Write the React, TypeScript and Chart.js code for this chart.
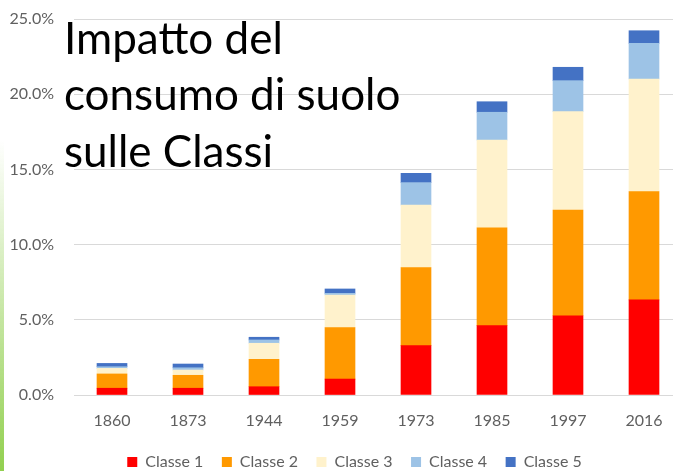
import React, { useEffect, useRef } from "react";
import { Chart, registerables } from "chart.js";

Chart.register(...registerables);

const years = ["1860", "1873", "1944", "1959", "1973", "1985", "1997", "2016"];
const classe1 = [0.45, 0.45, 0.55, 1.06, 3.28, 4.61, 5.27, 6.32];
const classe2 = [0.95, 0.86, 1.82, 3.42, 5.19, 6.51, 7.03, 7.2];
const classe3 = [0.37, 0.35, 1.07, 2.17, 4.16, 5.83, 6.54, 7.49];
const classe4 = [0.11, 0.15, 0.22, 0.11, 1.49, 1.85, 2.06, 2.37];
const classe5 = [0.22, 0.25, 0.18, 0.29, 0.62, 0.7, 0.89, 0.84];
const seriesNames = ["Classe 1", "Classe 2", "Classe 3", "Classe 4", "Classe 5"];
const seriesColors = ["#FF0000", "#FF9900", "#FFF2CC", "#9DC3E6", "#4472C4"];
const yTicks = [0, 5, 10, 15, 20, 25];
const titleLines = ["Impatto del", "consumo di suolo", "sulle Classi"];

const FONT = "Lato, 'Open Sans', sans-serif";
const GREY = "#606060";

const layoutTweak = {
  id: "layoutTweak",
  afterLayout(chart: any) {
    const lg = chart.legend;
    if (lg) {
      lg.left += 27;
      lg.top += 9;
      lg.bottom += 9;
    }
    const x = chart.scales.x;
    if (x) x.bottom += 12;
  },
};

export default function App() {
  const ref = useRef<HTMLCanvasElement | null>(null);

  useEffect(() => {
    if (!ref.current) return;
    const data = [classe1, classe2, classe3, classe4, classe5];
    const chart = new Chart(ref.current, {
      type: "bar",
      data: {
        labels: years,
        datasets: data.map((d, i) => ({
          label: seriesNames[i],
          data: d,
          backgroundColor: seriesColors[i],
          borderWidth: 0,
          barThickness: 30,
        })),
      },
      plugins: [layoutTweak],
      options: {
        animation: false,
        responsive: false,
        layout: { autoPadding: false, padding: { left: 0, right: 8, top: 19, bottom: 0 } },
        plugins: {
          tooltip: { enabled: false },
          legend: {
            position: "bottom",
            labels: {
              boxWidth: 10,
              boxHeight: 10,
              padding: 18.5,
              color: GREY,
              font: { family: FONT, size: 16 },
            },
          },
        },
        scales: {
          x: {
            stacked: true,
            grid: { display: false, drawTicks: false },
            border: { display: true, color: "#d9d9d9", width: 1 },
            ticks: { color: GREY, font: { family: FONT, size: 16 }, padding: 16 },
            afterFit: (s: any) => {
              s.height = 31.5;
            },
          },
          y: {
            stacked: true,
            min: 0,
            max: 25,
            afterBuildTicks: (s: any) => {
              s.ticks = yTicks.map((v) => ({ value: v }));
            },
            grid: { color: "#d9d9d9", drawTicks: false, lineWidth: 1 },
            border: { display: false },
            ticks: {
              color: GREY,
              font: { family: FONT, size: 16 },
              padding: 20,
              callback: (v: any) => Number(v).toFixed(1) + "%",
            },
            afterFit: (s: any) => {
              s.width = 74;
              s.paddingTop = 0;
              s.paddingBottom = 0;
            },
          },
        },
      },
    });
    return () => chart.destroy();
  }, []);

  return (
    <div
      style={{
        position: "fixed",
        left: 0,
        top: 0,
        width: 673,
        height: 471,
        overflow: "hidden",
        background: "#fff",
      }}
    >
      <canvas
        ref={ref}
        width={690}
        height={471}
        style={{ position: "absolute", left: 0, top: 0, width: 690, height: 471 }}
      />
      <div
        style={{
          position: "absolute",
          left: 0,
          top: 140,
          width: 4,
          height: 331,
          background: "linear-gradient(to bottom, rgba(146,208,80,0), #92d050)",
        }}
      />
      <div
        style={{
          position: "absolute",
          left: 64,
          top: 9,
          fontFamily: FONT,
          fontSize: 44,
          lineHeight: "56.3px",
          color: "#000",
          whiteSpace: "nowrap",
        }}
      >
        {titleLines.map((t, i) => (
          <div key={i}>{t}</div>
        ))}
      </div>
    </div>
  );
}
